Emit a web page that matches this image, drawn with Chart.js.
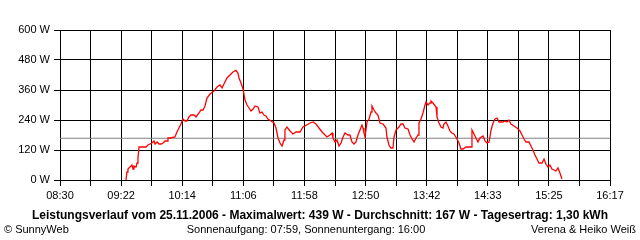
<!DOCTYPE html>
<html lang="de">
<head>
<meta charset="UTF-8">
<title>Leistungsverlauf</title>
<script src="https://cdn.jsdelivr.net/npm/chart.js"></script>
<style>
  body { margin: 0; background: #fff; }
  #wrap { position: relative; width: 640px; height: 240px; }
</style>
</head>
<body>
<div id="wrap"><canvas id="chart" width="640" height="240"></canvas></div>
<script>
// x tick labels (every second grid line), y ticks
const timeLabels = ["08:30", "09:22", "10:14", "11:06", "11:58", "12:50", "13:42", "14:33", "15:25", "16:17"];
const yTicks = [0, 120, 240, 360, 480, 600];
const average = 167;

// minutes since midnight, power in W
const minutes = [
  566.0, 566.9, 567.7, 569.4, 571.1, 572.0, 572.8, 574.5, 575.4, 576.2, 577.1, 583.0, 584.7, 586.4, 588.1, 589.8,
  590.7, 592.4, 594.1, 595.8, 597.5, 599.2, 600.9, 601.7, 603.4, 607.6, 609.3, 611.0, 612.7, 614.4, 616.1, 617.8,
  619.5, 621.2, 623.8, 625.5, 628.0, 629.7, 631.4, 633.1, 634.8, 637.4, 640.8, 643.3, 645.9, 647.6, 649.2, 651.8,
  654.3, 656.9, 659.4, 661.1, 662.0, 663.7, 665.4, 667.1, 668.8, 670.5, 672.2, 673.9, 675.6, 678.1, 679.8, 681.5,
  683.2, 684.9, 686.6, 689.2, 691.7, 693.4, 695.1, 696.8, 698.5, 700.2, 701.0, 702.7, 705.3, 707.8, 710.4, 713.8,
  716.3, 718.0, 722.3, 724.8, 727.4, 729.9, 732.5, 734.2, 736.7, 739.3, 741.0, 741.8, 743.5, 745.2, 746.9, 748.6,
  750.3, 752.0, 754.5, 756.2, 757.9, 759.6, 761.3, 763.0, 764.7, 766.4, 767.3, 768.1, 769.0, 770.7, 772.4, 774.1,
  774.9, 776.6, 778.3, 780.0, 781.7, 784.3, 786.8, 787.6, 789.3, 791.0, 792.7, 793.6, 795.3, 797.8, 799.5, 801.2,
  802.9, 805.5, 807.2, 808.9, 810.6, 812.3, 814.0, 814.8, 816.5, 818.2, 819.9, 820.8, 822.5, 824.2, 825.0, 826.7,
  829.3, 830.1, 831.8, 833.5, 835.2, 836.0, 837.7, 839.4, 841.1, 842.8, 844.5, 847.1, 848.8, 850.5, 852.2, 854.7,
  859.0, 859.8, 861.5, 863.2, 864.9, 866.6, 869.2, 870.9, 872.6, 874.3, 876.0, 877.7, 879.4, 881.1, 882.8, 886.1,
  887.8, 889.5, 891.2, 892.9, 895.5, 898.0, 900.6, 902.3, 904.0, 905.7, 908.2, 909.9, 911.6, 913.3, 915.0, 916.7,
  919.3, 921.0, 922.6, 924.3, 926.0, 927.7, 929.4, 931.1, 932.8, 934.5, 936.2
];
const watts = [
  0, 32, 44, 52, 60, 44, 56, 52, 68, 88, 132, 132, 140, 144, 148, 156,
  144, 152, 144, 144, 148, 156, 156, 168, 168, 172, 192, 208, 224, 244, 236, 236,
  252, 260, 260, 252, 268, 280, 280, 296, 328, 344, 356, 372, 380, 368, 384, 408,
  420, 432, 439, 428, 408, 388, 364, 320, 300, 288, 276, 284, 296, 292, 268, 272,
  260, 256, 244, 236, 228, 208, 168, 148, 136, 160, 200, 212, 196, 184, 192, 192,
  212, 216, 228, 232, 224, 208, 192, 184, 172, 180, 188, 168, 152, 160, 136, 148,
  172, 188, 180, 180, 152, 144, 152, 180, 200, 220, 208, 188, 172, 232, 244, 272,
  296, 280, 268, 260, 228, 224, 208, 172, 140, 128, 128, 172, 200, 212, 224, 224,
  208, 204, 180, 164, 152, 168, 180, 228, 244, 268, 300, 312, 300, 308, 316, 308,
  292, 252, 228, 212, 208, 224, 232, 216, 196, 188, 184, 164, 148, 124, 124, 132,
  132, 200, 184, 168, 152, 168, 176, 156, 148, 152, 200, 228, 244, 248, 232, 232,
  236, 232, 240, 224, 216, 208, 196, 180, 164, 152, 152, 136, 120, 100, 84, 68,
  68, 84, 64, 52, 60, 44, 40, 36, 48, 28, 4
];

const titleText = "Leistungsverlauf vom 25.11.2006 - Maximalwert: 439 W - Durchschnitt: 167 W - Tagesertrag: 1,30 kWh";
const footerLeft = "\u00a9 SunnyWeb";
const footerCenter = "Sonnenaufgang: 07:59, Sonnenuntergang: 16:00";
const footerRight = "Verena & Heiko Wei\u00df";

function toMin(s) {
  const p = s.split(":");
  return parseInt(p[0]) * 60 + parseInt(p[1]);
}

const xMin = toMin(timeLabels[0]);
const xMax = toMin(timeLabels[timeLabels.length - 1]);
const gridCount = (timeLabels.length - 1) * 2;

const points = minutes.map((m, i) => ({ x: m, y: watts[i] }));

const textPlugin = {
  id: "texts",
  afterDraw(chart) {
    const ctx = chart.ctx;
    ctx.save();
    ctx.fillStyle = "#000";
    ctx.textBaseline = "middle";
    ctx.font = "bold 12px 'Liberation Sans'";
    ctx.textAlign = "center";
    ctx.fillText(titleText, 320, 216, 586);
    ctx.font = "11px 'Liberation Sans'";
    ctx.textAlign = "left";
    ctx.fillText(footerLeft, 4, 230);
    ctx.textAlign = "center";
    ctx.fillText(footerCenter, 306, 230);
    ctx.textAlign = "right";
    ctx.fillText(footerRight, 636, 230);
    ctx.restore();
  }
};

new Chart(document.getElementById("chart"), {
  type: "line",
  data: {
    datasets: [
      {
        data: points,
        borderColor: "#ff0000",
        borderWidth: 1.3,
        pointRadius: 0,
        tension: 0
      },
      {
        data: [{ x: xMin, y: average }, { x: xMax, y: average }],
        borderColor: "#808080",
        borderWidth: 1,
        pointRadius: 0
      }
    ]
  },
  options: {
    responsive: false,
    animation: false,
    layout: { padding: { top: 30, right: 30, left: 0, bottom: 0 } },
    plugins: {
      legend: { display: false },
      tooltip: { enabled: false }
    },
    scales: {
      x: {
        type: "linear",
        min: xMin,
        max: xMax,
        afterBuildTicks: s => {
          const t = [];
          for (let i = 0; i <= gridCount; i++) t.push({ value: xMin + i * (xMax - xMin) / gridCount });
          s.ticks = t;
        },
        afterFit: s => { s.height = 60; },
        ticks: {
          autoSkip: false,
          maxRotation: 0,
          padding: 3,
          color: "#000",
          font: { family: "'Liberation Sans'", size: 11 },
          callback: (v, i) => (i % 2 === 0 ? timeLabels[i / 2] : "")
        },
        grid: { color: "#000", lineWidth: 1, tickLength: 6, tickColor: "#000" },
        border: { color: "#000" }
      },
      y: {
        min: yTicks[0],
        max: yTicks[yTicks.length - 1],
        afterBuildTicks: s => { s.ticks = yTicks.map(v => ({ value: v })); },
        afterFit: s => { s.width = 60; },
        ticks: {
          padding: 4,
          color: "#000",
          font: { family: "'Liberation Sans'", size: 11 },
          callback: v => v + " W"
        },
        grid: { color: "#000", lineWidth: 1, tickLength: 6, tickColor: "#000" },
        border: { color: "#000" }
      }
    }
  },
  plugins: [textPlugin]
});
</script>
</body>
</html>
